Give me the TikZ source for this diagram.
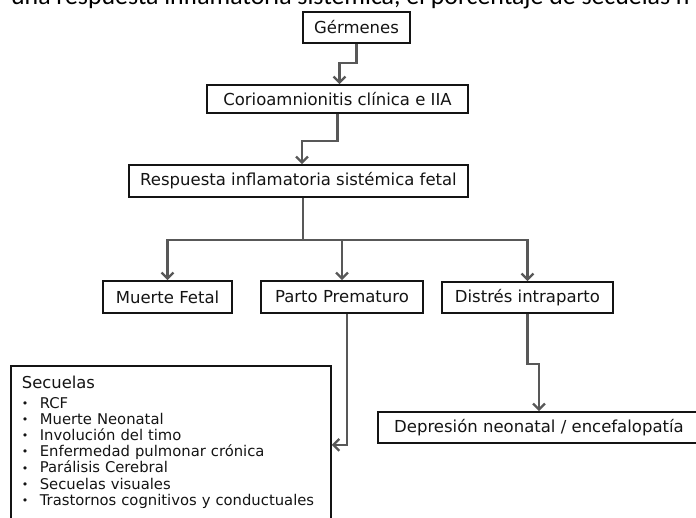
\documentclass[tikz,border=0pt]{standalone}
\usepackage{fontspec}
\setmainfont{DejaVu Sans}
\newfontfamily\cutfont{Carlito}
\usepackage{tikz}
\usetikzlibrary{arrows.meta}
\usetikzlibrary{positioning}
\definecolor{LineGray}{RGB}{88,88,88}
\definecolor{BoxBlack}{RGB}{20,20,20}
\tikzset{
	box/.style={draw=BoxBlack, line width=1.7pt, fill=white, text=BoxBlack, inner sep=0pt,
		minimum height=31pt, font=\fontsize{16.5}{19}\selectfont},
	conn/.style={->, draw=LineGray, line width=2.3pt},
	listbox/.style={draw=BoxBlack, line width=1.7pt, text=BoxBlack, anchor=north west,
		text width=298pt, align=left, inner xsep=11pt, inner ysep=10pt,
		font=\fontsize{14.8}{16.2}\selectfont}
}
\newcommand{\bul}{\makebox[18pt][l]{\raisebox{0.8pt}{\fontsize{11}{11}\selectfont •}}}

\begin{document}
\begin{tikzpicture}[x=1pt, y=-1pt, >={Straight Barb[length=6pt,width=12pt]}]
		\useasboundingbox (0,0) rectangle (696,517);
		\node[anchor=base west, inner sep=0pt, font=\cutfont\fontsize{25.8}{30}\selectfont] (cut) at (11,4.5) {una respuesta inflamatoria sistémica, el porcentaje de secuelas n};
		\node[box, minimum width=107pt] (gm) at (356.5,27.5) {Gérmenes};
		\node[box, minimum width=261pt, minimum height=28pt] (corio) at (337.5,99) {Corioamnionitis clínica e IIA};
		\node[box, minimum width=339pt, minimum height=32pt] (sirf) at (298.5,181) {Respuesta inflamatoria sistémica fetal};
		\node[box, minimum width=129pt, minimum height=32pt] (mf) at (167.5,297) {Muerte Fetal};
		\node[box, minimum width=162pt, minimum height=32pt] (pp) at (342,297) {Parto Prematuro};
		\node[box, minimum width=171pt] (di) at (527.5,297.5) {Distrés intraparto};
		\node[box, minimum width=322pt] (dep) at (539,427.5) {Depresión neonatal / encefalopatía};
		\node[listbox] (sec) at (10,365) {{\fontsize{16.4}{18}\selectfont Secuelas}\\[3.5pt]
			\bul RCF\\ \bul Muerte Neonatal\\ \bul Involución del timo\\ \bul Enfermedad pulmonar crónica\\
			\bul Parálisis Cerebral\\ \bul Secuelas visuales\\ \bul Trastornos cognitivos y conductuales\\[14pt] \mbox{}};
		\draw[conn] (gm.south) -- ++(0,19) -| ([xshift=2pt]corio.north);
		\draw[conn] (corio.south) -- ++(0,27) -| ([xshift=3.5pt]sirf.north);
		\draw[conn, -] ([xshift=4.5pt]sirf.south) -- ++(0,42) coordinate (split);
		\draw[conn] (split) -| (mf.north);
		\draw[conn] (split) -| (pp.north);
		\draw[conn] (split) -| (di.north);
		\draw[conn] ([xshift=5pt]pp.south) -- ++(0,131) coordinate (bend) -- (bend -| sec.east);
		\draw[conn] (di.south) -- ++(0,50) -| (dep.north);
	\end{tikzpicture}
\end{document}
